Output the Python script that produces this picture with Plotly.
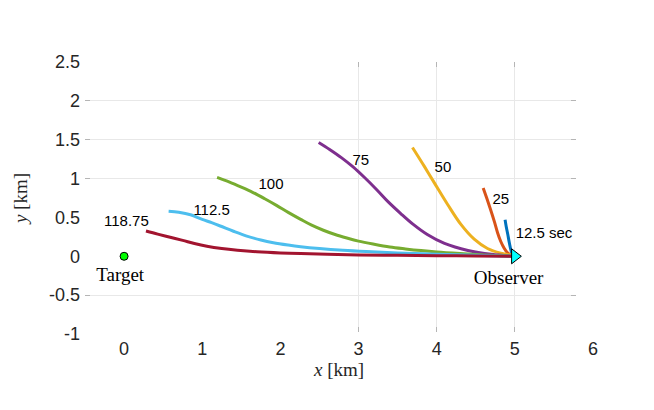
import plotly.graph_objects as go

# trajectories (km), labelled by elapsed time
x_12_5 = [4.875, 4.89, 4.91, 4.93, 4.95, 4.97, 5.0]
y_12_5 = [0.47, 0.38, 0.28, 0.17, 0.08, 0.02, 0.0]

x_25 = [4.595, 4.64, 4.69, 4.74, 4.78, 4.82, 4.86, 4.91, 4.96, 5.0]
y_25 = [0.88, 0.75, 0.60, 0.44, 0.30, 0.19, 0.11, 0.04, 0.01, 0.0]

x_50 = [3.69, 3.84, 3.97, 4.14, 4.31, 4.48, 4.65, 4.82, 4.95, 5.0]
y_50 = [1.40, 1.16, 0.945, 0.667, 0.41, 0.22, 0.10, 0.04, 0.015, 0.0]

x_75 = [2.49, 2.63, 2.78, 2.93, 3.08, 3.23, 3.38, 3.54, 3.70, 3.88, 4.10, 4.40, 4.70, 5.0]
y_75 = [1.465, 1.375, 1.27, 1.15, 1.01, 0.86, 0.70, 0.55, 0.41, 0.28, 0.165, 0.075, 0.025, 0.0]

x_100 = [1.19, 1.35, 1.5, 1.65, 1.8, 1.95, 2.1, 2.26, 2.4, 2.55, 2.7, 2.85, 3.0,
         3.2, 3.4, 3.6, 3.8, 4.0, 4.3, 4.6, 5.0]
y_100 = [1.015, 0.955, 0.89, 0.82, 0.74, 0.655, 0.565, 0.475, 0.40, 0.335, 0.28, 0.235, 0.195,
         0.155, 0.12, 0.095, 0.073, 0.055, 0.035, 0.018, 0.0]

x_112_5 = [0.57, 0.7, 0.85, 1.0, 1.12, 1.23, 1.4, 1.57, 1.75, 1.91, 2.1, 2.26, 2.5,
           2.8, 3.1, 3.5, 4.0, 4.5, 5.0]
y_112_5 = [0.58, 0.567, 0.535, 0.475, 0.432, 0.39, 0.322, 0.26, 0.21, 0.175, 0.145, 0.124, 0.10,
           0.077, 0.06, 0.042, 0.027, 0.013, 0.0]

x_118_75 = [0.28, 0.43, 0.59, 0.75, 0.9, 1.06, 1.25, 1.45, 1.7, 2.0, 2.26, 2.6, 3.0,
            3.5, 4.0, 4.5, 5.0]
y_118_75 = [0.325, 0.285, 0.245, 0.205, 0.165, 0.13, 0.10, 0.078, 0.058, 0.043, 0.035, 0.026, 0.018,
            0.012, 0.008, 0.004, 0.0]

series = [
    ("12.5", x_12_5, y_12_5, "#0072BD"),
    ("25", x_25, y_25, "#D95319"),
    ("50", x_50, y_50, "#EDB120"),
    ("75", x_75, y_75, "#7E2F8E"),
    ("100", x_100, y_100, "#77AC30"),
    ("112.5", x_112_5, y_112_5, "#4DBEEE"),
    ("118.75", x_118_75, y_118_75, "#A2142F"),
]

label_text = ["12.5 sec", "25", "50", "75", "100", "112.5", "118.75"]
label_x = [5.01, 4.82, 4.08, 3.03, 1.88, 1.12, 0.03]
label_y = [0.28, 0.72, 1.13, 1.22, 0.91, 0.58, 0.44]

point_x = [0.0, 5.0]          # target, observer
point_y = [0.0, 0.0]
point_names = ["Target", "Observer"]
name_x = [-0.05, 4.92]
name_y = [-0.26, -0.29]

x_ticks = [0, 1, 2, 3, 4, 5, 6]
y_ticks = [-1, -0.5, 0, 0.5, 1, 1.5, 2, 2.5]
y_ticktext = ["-1", "-0.5", "0", "0.5", "1", "1.5", "2", "2.5"]
x_grid = [3, 4, 5]
y_grid = [-0.5, 1, 1.5, 2]

fig = go.Figure()

# empty trace so the grid-only subplot gets drawn
fig.add_trace(go.Scatter(x=[None], y=[None], mode="markers", hoverinfo="skip",
                         xaxis="x", yaxis="y"))

for name, xs, ys, col in series:
    fig.add_trace(go.Scatter(x=xs, y=ys, mode="lines", name=name,
                             line=dict(color=col, width=3, shape="spline", smoothing=1.0),
                             xaxis="x2", yaxis="y2"))

label_font = dict(family="Liberation Sans", size=15, color="black")
fig.add_trace(go.Scatter(
    x=label_x[:1], y=label_y[:1], text=label_text[:1], mode="text",
    textposition="middle right", textfont=label_font, xaxis="x2", yaxis="y2"))
fig.add_trace(go.Scatter(
    x=label_x[1:], y=label_y[1:], text=label_text[1:], mode="text",
    textposition="middle center", textfont=label_font, xaxis="x2", yaxis="y2"))

fig.add_trace(go.Scatter(
    x=name_x, y=name_y, text=point_names, mode="text", textposition="middle center",
    textfont=dict(family="Liberation Serif", size=19, color="black"),
    xaxis="x2", yaxis="y2"))

fig.add_trace(go.Scatter(
    x=point_x[:1], y=point_y[:1], mode="markers",
    marker=dict(symbol="circle", size=8, color="#00FF00", line=dict(color="black", width=1)),
    xaxis="x2", yaxis="y2"))
fig.add_trace(go.Scatter(
    x=point_x[1:], y=point_y[1:], mode="markers",
    marker=dict(symbol="triangle-right", size=13, color="#00FFFF", line=dict(color="black", width=1)),
    xaxis="x2", yaxis="y2"))

tick_font = dict(family="Liberation Sans", size=18, color="#262626")
title_font = dict(family="Liberation Serif", size=19, color="#262626")

fig.update_layout(
    width=654, height=410,
    margin=dict(l=77, r=69, t=54, b=84),
    paper_bgcolor="white", plot_bgcolor="rgba(0,0,0,0)",
    showlegend=False,
    # grid-only axes (partial grid like the original)
    xaxis=dict(domain=[0, 0.9665], range=[-0.5, 5.782], tickvals=x_grid,
               showticklabels=False, showgrid=True, gridcolor="#e8e8e8", gridwidth=1,
               zeroline=False, showline=False, ticks="inside", ticklen=5,
               tickcolor="#b5b5b5", mirror="ticks", anchor="y"),
    yaxis=dict(domain=[0.0074, 1], range=[-0.9745, 2.5], tickvals=y_grid,
               showticklabels=False, showgrid=True, gridcolor="#e8e8e8", gridwidth=1,
               zeroline=False, showline=False, ticks="inside", ticklen=5,
               tickcolor="#b5b5b5", mirror="ticks", anchor="x"),
    # data axes with labels
    xaxis2=dict(domain=[0, 1], range=[-0.5, 6], tickvals=x_ticks, tickfont=tick_font,
                showgrid=False, zeroline=False, showline=False, ticks="", anchor="y2",
                title=dict(text="<i>x</i> [km]", font=title_font, standoff=4),
                ticklabelstandoff=2),
    yaxis2=dict(domain=[0, 1], range=[-1, 2.5], tickvals=y_ticks, ticktext=y_ticktext,
                tickfont=tick_font, showgrid=False, zeroline=False, showline=False,
                ticks="", anchor="x2",
                title=dict(text="<i>y</i> [km]", font=title_font, standoff=16),
                ticklabelstandoff=4),
)

fig.write_html("out.html")
